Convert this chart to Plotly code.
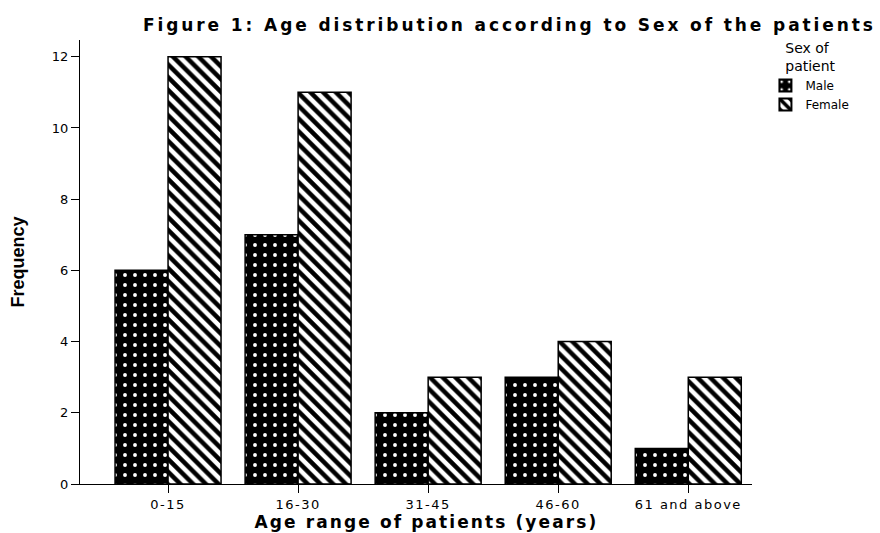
import plotly.graph_objects as go

categories = ["0-15", "16-30", "31-45", "46-60", "61 and above"]
male = [6, 7, 2, 3, 1]
female = [12, 11, 3, 4, 3]
y_ticks = [0, 2, 4, 6, 8, 10, 12]

fig = go.Figure()
fig.add_trace(go.Bar(
    x=categories, y=male, name="Male",
    marker=dict(color="black", line=dict(color="black", width=1.5),
                pattern=dict(shape=".", fgcolor="white", bgcolor="black",
                             size=10, solidity=0.12, fillmode="replace")),
))
fig.add_trace(go.Bar(
    x=categories, y=female, name="Female",
    marker=dict(color="white", line=dict(color="black", width=1.5),
                pattern=dict(shape="\\", fgcolor="black", bgcolor="white",
                             size=9, solidity=0.5, fillmode="replace")),
))

fig.update_layout(
    width=880, height=533,
    margin=dict(l=80, r=128, t=40, b=49, autoexpand=False),
    paper_bgcolor="white", plot_bgcolor="white",
    barmode="group", bargap=0.185, bargroupgap=0,
    font=dict(family="Liberation Sans, Arial, sans-serif", size=12, color="black"),
    title=dict(text="<b>Figure 1: Age distribution according to Sex of the patients</b>",
               x=143 / 880, xanchor="left", y=0.953, yanchor="middle",
               font=dict(size=17, color="black", family="DejaVu Sans, sans-serif")),
    legend=dict(x=1.02, xanchor="left", y=1.012, yanchor="top",
                title=dict(text="    Sex of<br>    patient",
                           font=dict(size=14, family="DejaVu Sans, sans-serif"), side="top"),
                font=dict(size=12, family="DejaVu Sans, sans-serif"),
                itemsizing="constant", tracegroupgap=0,
                bgcolor="rgba(0,0,0,0)"),
    showlegend=True,
    annotations=[dict(
        text="<b>Age range of patients (years)</b>", xref="paper", yref="paper",
        x=0.515, y=-0.0856, xanchor="center", yanchor="middle", showarrow=False,
        font=dict(size=17, family="DejaVu Sans, sans-serif", color="black"),
    )],
)
fig.update_xaxes(
    range=[-0.677, 4.49], showline=True, linecolor="black", linewidth=1,
    ticks="outside", ticklen=8, tickcolor="black", showgrid=False, automargin=False,
    tickfont=dict(size=13, family="DejaVu Sans, sans-serif"),
)
fig.update_yaxes(
    range=[0, 12.47], tickvals=y_ticks, showline=True, linecolor="black", linewidth=1,
    ticks="outside", ticklen=8, tickcolor="black", showgrid=False, zeroline=False,
    automargin=False,
    title=dict(text="<b>Frequency</b>",
               font=dict(size=18, family="Liberation Sans Narrow, Arial Narrow, sans-serif"),
               standoff=22),
    tickfont=dict(size=13, family="DejaVu Sans, sans-serif"),
)

post = """
document.body.style.margin = '0';
var t = document.querySelector('.gtitle');
if (t) { t.setAttribute('letter-spacing', '2.9px'); }
document.querySelectorAll('.annotation-text').forEach(function (e) {
  e.setAttribute('letter-spacing', '2.1px');
});
document.querySelectorAll('.xtick text').forEach(function (e) {
  e.setAttribute('letter-spacing', '1.5px');
});
"""

fig.write_html("out.html", post_script=post, config={"displayModeBar": False})
